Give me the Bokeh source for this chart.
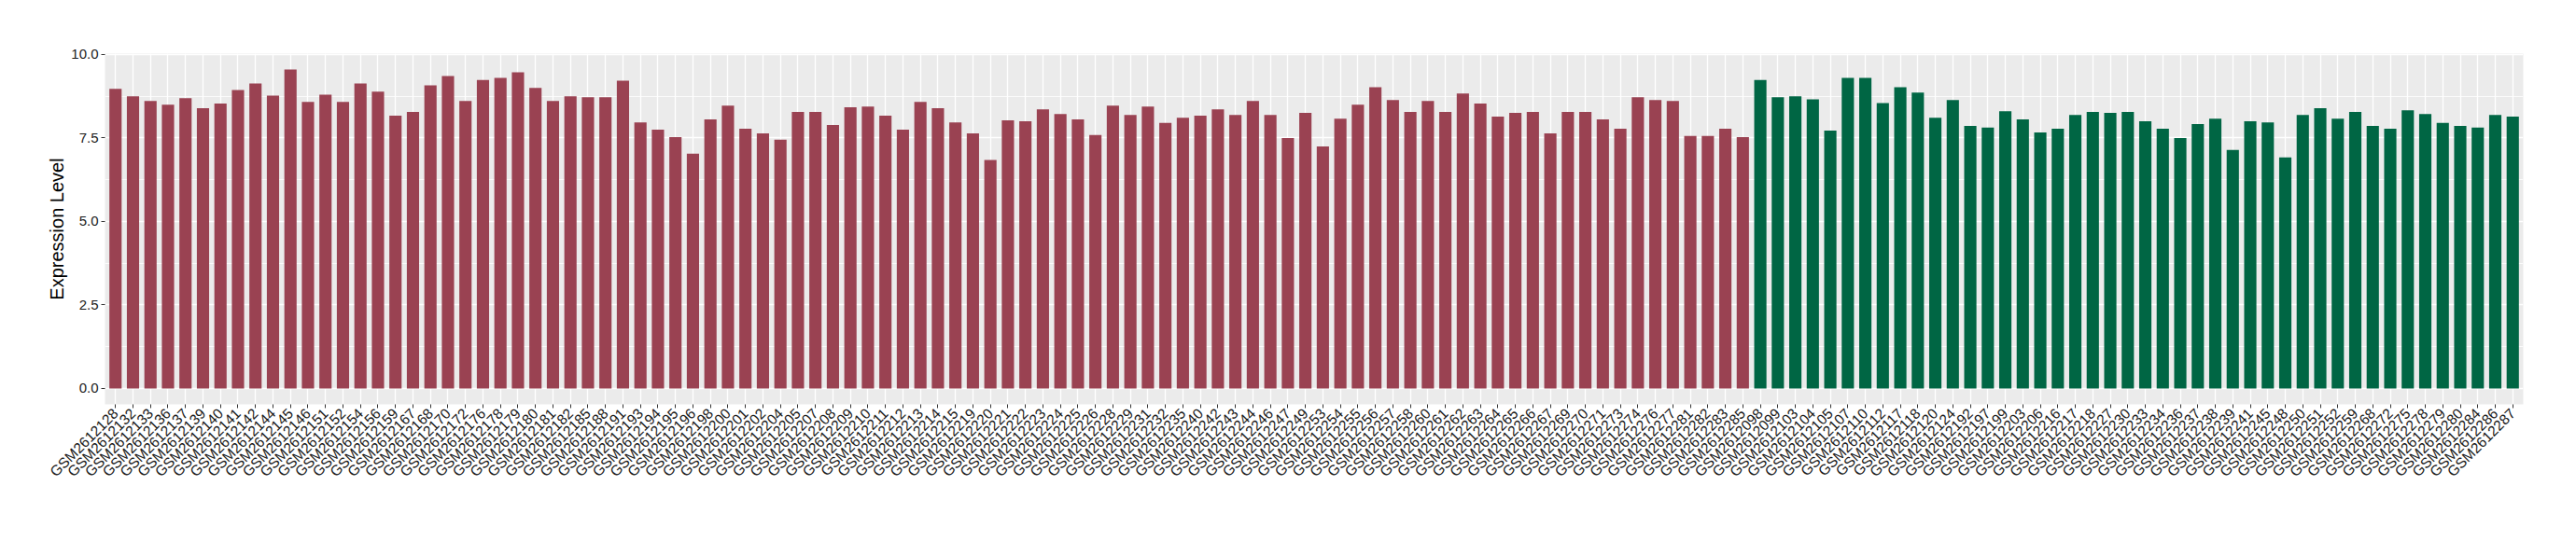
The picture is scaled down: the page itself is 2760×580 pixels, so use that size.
from math import pi
from bokeh.plotting import figure
from bokeh.models import FactorRange, Range1d, FixedTicker, PrintfTickFormatter, ColumnDataSource
from bokeh.embed import file_html
from bokeh.resources import INLINE

group1_samples = ["GSM2612128", "GSM2612132", "GSM2612133", "GSM2612136", "GSM2612137", "GSM2612139", "GSM2612140", "GSM2612141", "GSM2612142", "GSM2612144",
                  "GSM2612145", "GSM2612146", "GSM2612151", "GSM2612152", "GSM2612154", "GSM2612156", "GSM2612159", "GSM2612167", "GSM2612168", "GSM2612170",
                  "GSM2612172", "GSM2612176", "GSM2612178", "GSM2612179", "GSM2612180", "GSM2612181", "GSM2612182", "GSM2612185", "GSM2612188", "GSM2612191",
                  "GSM2612193", "GSM2612194", "GSM2612195", "GSM2612196", "GSM2612198", "GSM2612200", "GSM2612201", "GSM2612202", "GSM2612204", "GSM2612205",
                  "GSM2612207", "GSM2612208", "GSM2612209", "GSM2612210", "GSM2612211", "GSM2612212", "GSM2612213", "GSM2612214", "GSM2612215", "GSM2612219",
                  "GSM2612220", "GSM2612221", "GSM2612222", "GSM2612223", "GSM2612224", "GSM2612225", "GSM2612226", "GSM2612228", "GSM2612229", "GSM2612231",
                  "GSM2612232", "GSM2612235", "GSM2612240", "GSM2612242", "GSM2612243", "GSM2612244", "GSM2612246", "GSM2612247", "GSM2612249", "GSM2612253",
                  "GSM2612254", "GSM2612255", "GSM2612256", "GSM2612257", "GSM2612258", "GSM2612260", "GSM2612261", "GSM2612262", "GSM2612263", "GSM2612264",
                  "GSM2612265", "GSM2612266", "GSM2612267", "GSM2612269", "GSM2612270", "GSM2612271", "GSM2612273", "GSM2612274", "GSM2612276", "GSM2612277",
                  "GSM2612281", "GSM2612282", "GSM2612283", "GSM2612285"]
group1_values = [8.97, 8.75, 8.61, 8.50, 8.69, 8.39, 8.53, 8.94, 9.13, 8.77,
                 9.55, 8.58, 8.80, 8.58, 9.13, 8.89, 8.17, 8.28, 9.08, 9.36,
                 8.61, 9.24, 9.30, 9.47, 9.00, 8.61, 8.75, 8.72, 8.72, 9.22,
                 7.97, 7.75, 7.53, 7.03, 8.06, 8.47, 7.78, 7.64, 7.45, 8.28,
                 8.28, 7.89, 8.42, 8.44, 8.17, 7.75, 8.58, 8.39, 7.97, 7.64,
                 6.84, 8.03, 8.00, 8.36, 8.22, 8.06, 7.59, 8.47, 8.19, 8.44,
                 7.95, 8.11, 8.17, 8.36, 8.19, 8.61, 8.19, 7.50, 8.25, 7.25,
                 8.08, 8.50, 9.02, 8.64, 8.28, 8.61, 8.28, 8.83, 8.53, 8.14,
                 8.25, 8.28, 7.64, 8.28, 8.28, 8.06, 7.78, 8.72, 8.64, 8.61,
                 7.56, 7.56, 7.78, 7.53]

group2_samples = ["GSM2612098", "GSM2612099", "GSM2612103", "GSM2612104", "GSM2612105", "GSM2612107", "GSM2612110", "GSM2612112", "GSM2612117", "GSM2612118",
                  "GSM2612120", "GSM2612124", "GSM2612192", "GSM2612197", "GSM2612199", "GSM2612203", "GSM2612206", "GSM2612216", "GSM2612217", "GSM2612218",
                  "GSM2612227", "GSM2612230", "GSM2612233", "GSM2612234", "GSM2612236", "GSM2612237", "GSM2612238", "GSM2612239", "GSM2612241", "GSM2612245",
                  "GSM2612248", "GSM2612250", "GSM2612251", "GSM2612252", "GSM2612259", "GSM2612268", "GSM2612272", "GSM2612275", "GSM2612278", "GSM2612279",
                  "GSM2612280", "GSM2612284", "GSM2612286", "GSM2612287"]
group2_values = [9.24, 8.72, 8.75, 8.66, 7.72, 9.30, 9.30, 8.55, 9.02, 8.86,
                 8.11, 8.64, 7.86, 7.81, 8.30, 8.06, 7.67, 7.78, 8.19, 8.28,
                 8.25, 8.28, 8.00, 7.78, 7.50, 7.92, 8.08, 7.14, 8.00, 7.97,
                 6.92, 8.19, 8.39, 8.08, 8.28, 7.86, 7.78, 8.33, 8.22, 7.95,
                 7.86, 7.81, 8.19, 8.14]

group1_color = "#9A4252"
group2_color = "#006644"
y_ticks = [0.0, 2.5, 5.0, 7.5, 10.0]
y_minor = [1.25, 3.75, 6.25, 8.75]
y_title = "Expression Level"

factors = group1_samples + group2_samples
src = ColumnDataSource(dict(
    x=factors,
    top=group1_values + group2_values,
    color=[group1_color] * len(group1_samples) + [group2_color] * len(group2_samples),
))

ymax = max(group1_values + group2_values)
pad = 0.05 * ymax

p = figure(
    x_range=FactorRange(factors=factors, range_padding=0.1, range_padding_units="absolute"),
    y_range=Range1d(-pad, ymax + pad),
    frame_width=2591, frame_height=376,
    min_border_left=112, min_border_right=45, min_border_top=57, min_border_bottom=135,
    output_backend="svg", toolbar_location=None,
)
p.vbar(x="x", top="top", width=0.7, color="color", source=src, line_color=None)

p.background_fill_color = "#EBEBEB"
p.border_fill_color = "white"
p.outline_line_color = None

p.xgrid.grid_line_color = "white"
p.xgrid.grid_line_width = 1.3
p.ygrid.grid_line_color = "white"
p.ygrid.grid_line_width = 1.5
p.ygrid.minor_grid_line_color = "white"
p.ygrid.minor_grid_line_width = 0.8

p.yaxis.ticker = FixedTicker(ticks=y_ticks, minor_ticks=y_minor)
p.yaxis.formatter = PrintfTickFormatter(format="%.1f")
p.yaxis.axis_label = y_title
p.yaxis.axis_label_text_font = "Liberation Sans"
p.yaxis.axis_label_text_font_size = "20px"
p.yaxis.axis_label_text_font_style = "normal"
p.yaxis.axis_label_text_color = "black"
p.yaxis.axis_label_standoff = 1

for ax in (p.xaxis[0], p.yaxis[0]):
    ax.axis_line_color = None
    ax.major_tick_line_color = "#333333"
    ax.major_tick_line_width = 1
    ax.major_tick_out = 4
    ax.major_tick_in = 0
    ax.minor_tick_line_color = None
    ax.major_label_text_font = "Liberation Sans"
    ax.major_label_text_color = "#1a1a1a"
    ax.major_label_standoff = 3

p.yaxis.major_label_text_font_size = "15px"
p.xaxis.major_label_text_font_size = "15.5px"
p.xaxis.major_label_orientation = pi / 4

open("out.html", "w").write(file_html(p, INLINE))
